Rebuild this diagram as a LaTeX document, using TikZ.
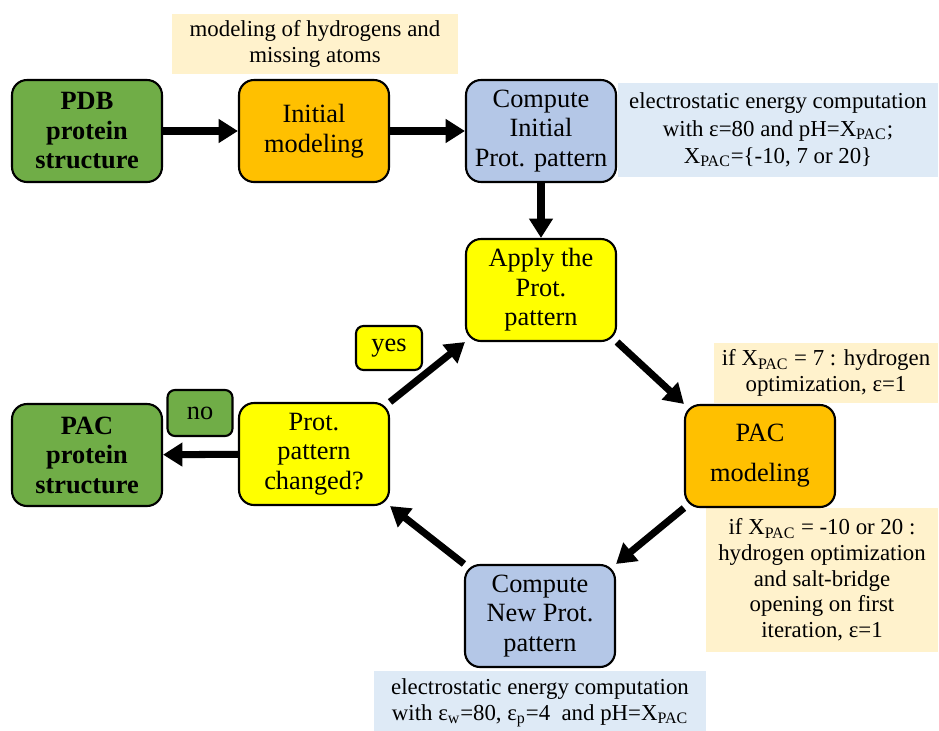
\documentclass[tikz,border=0pt]{standalone}
\usepackage{fontspec}
\setmainfont{Liberation Serif}
\usetikzlibrary{arrows.meta, positioning, calc}
\definecolor{pacgreen}{RGB}{112,173,71}
\definecolor{pacorange}{RGB}{255,192,0}
\definecolor{pacblue}{RGB}{180,199,231}
\definecolor{pacyellow}{RGB}{255,255,0}
\definecolor{notebeige}{RGB}{255,242,204}
\definecolor{noteblue}{RGB}{222,234,246}
\tikzset{
    stage/.style={rectangle, rounded corners=0.3cm, draw=black, line width=1.2pt, minimum width=3cm, minimum height=2.04cm, inner sep=0pt, align=center, font=\fontsize{15}{16.8}\selectfont},
    tag/.style={rectangle, rounded corners=0.15cm, draw=black, line width=1.2pt, inner sep=0pt, align=center, font=\fontsize{15}{16.8}\selectfont},
    note/.style={rectangle, inner sep=0pt, align=center, font=\fontsize{13}{14.6}\selectfont},
    orangenote/.style={note, fill=notebeige},
    bluenote/.style={note, fill=noteblue},
}
\begin{document}
\begin{tikzpicture}[
        x=0.02cm, y=-0.02cm,
        arrow/.style={-{Triangle[length=11pt,width=13pt]}, line width=4pt}
    ]
        \useasboundingbox (0,0) rectangle (939,730);

        % notes
        \node[orangenote, minimum width=5.72cm, minimum height=1.2cm] (hnote) at (315,44) {modeling of hydrogens and\\ missing atoms};
        \node[bluenote, minimum width=6.4cm, minimum height=1.88cm] (enote) at (778,130) {electrostatic energy computation\\[1pt] with ε=80 and pH=X\textsubscript{PAC};\\[1pt] X\textsubscript{PAC}=\{-10, 7 or 20\}};
        \node[orangenote, minimum width=4.5cm, minimum height=1.2cm] (onote) at (826,373) {if X\textsubscript{PAC} = 7 : hydrogen\\ optimization, ε=1};
        \node[orangenote, minimum width=4.64cm, minimum height=2.88cm] (snote) at (822,580) {if X\textsubscript{PAC} = -10 or 20 :\\ hydrogen optimization\\ and salt-bridge\\ opening on first\\ iteration, ε=1};
        \node[bluenote, minimum width=6.64cm, minimum height=1.3cm] (bnote) at (540,703) {electrostatic energy computation\\ with ε\textsubscript{w}=80, ε\textsubscript{p}=4~ and pH=X\textsubscript{PAC}};

        % stages
        \node[stage, fill=pacgreen, font=\fontsize{15}{16.8}\selectfont\bfseries] (pdb) at (87,131) {PDB\\ protein\\ structure};
        \node[stage, fill=pacorange] (init) at (314,131) {Initial\\ modeling};
        \node[stage, fill=pacblue] (cinit) at (541,131) {Compute\\ Initial\\ Prot. pattern};
        \node[stage, fill=pacyellow] (apply) at (541,290) {Apply the\\ Prot.\\ pattern};
        \node[stage, fill=pacorange] (pacmod) at (760,456) {PAC\\[6pt] modeling};
        \node[stage, fill=pacblue] (cnew) at (540,616) {Compute\\ New Prot.\\ pattern};
        \node[stage, fill=pacyellow] (changed) at (314,454) {Prot.\\ pattern\\ changed?};
        \node[stage, fill=pacgreen, font=\fontsize{15}{16.8}\selectfont\bfseries] (pac) at (87,455) {PAC\\ protein\\ structure};

        \node[tag, fill=pacyellow, minimum width=1.32cm, minimum height=0.88cm] (yes) at (389,348) {yes};
        \node[tag, fill=pacgreen, minimum width=1.3cm, minimum height=0.92cm] (no) at (200,413) {no};

        % connectors
        \draw[arrow] (pdb) -- (init);
        \draw[arrow] (init) -- (cinit);
        \draw[arrow] (cinit) -- (apply);
        \draw[arrow] (apply.south east) -- (pacmod.north west);
        \draw[arrow] (pacmod.south west) -- (cnew.north east);
        \draw[arrow] (cnew.north west) -- (changed.south east);
        \draw[arrow] (changed.north east) -- (apply.south west);
        \draw[arrow] (changed) -- (pac);
    \end{tikzpicture}
\end{document}
